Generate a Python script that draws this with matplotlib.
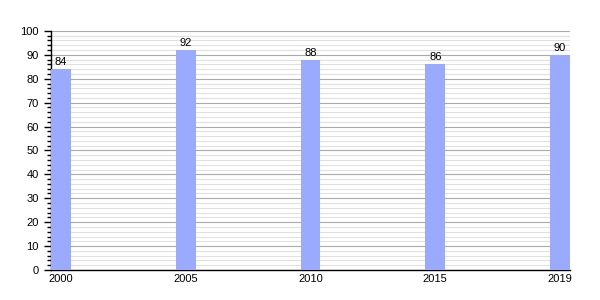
import numpy as np
from matplotlib import pyplot as plt
from matplotlib.ticker import MultipleLocator

plt.rcParams['font.family'] = ['Liberation Sans', 'DejaVu Sans']

# Данные
years = ['2000', '2005', '2010', '2015', '2019']
values = [84, 92, 88, 86, 90]

x = np.arange(len(years))
w = 0.16

fig = plt.figure(figsize=(6, 3), dpi=100)
ax = fig.add_axes([0.085, 0.1, 0.865, 0.797])

ax.bar(x, values, width=w, align='edge', color='#99aaff', zorder=3)
for xi, v in zip(x, values):
    ax.text(xi + w / 2, v + 0.8, str(v), ha='center', va='bottom', fontsize=8, zorder=4)

ax.set_xlim(0, len(years) - 1 + w)
ax.set_ylim(0, 100)
ax.set_xticks(x + w / 2)
ax.set_xticklabels(years, fontsize=8)
ax.tick_params(axis='x', length=0, pad=3)

ax.yaxis.set_major_locator(MultipleLocator(10))
ax.yaxis.set_minor_locator(MultipleLocator(2))
ax.tick_params(axis='y', which='major', length=5, width=1, labelsize=8, pad=4)
ax.tick_params(axis='y', which='minor', length=3, width=1)
ax.grid(True, axis='y', which='major', color='#aaaaaa', linewidth=0.8, zorder=0)
ax.grid(True, axis='y', which='minor', color='#e0e0e0', linewidth=0.8, zorder=0)

for s in ['top', 'right']:
    ax.spines[s].set_visible(False)
ax.spines['left'].set_linewidth(1)
ax.spines['bottom'].set_linewidth(1)

plt.savefig('out.png', dpi=100)
